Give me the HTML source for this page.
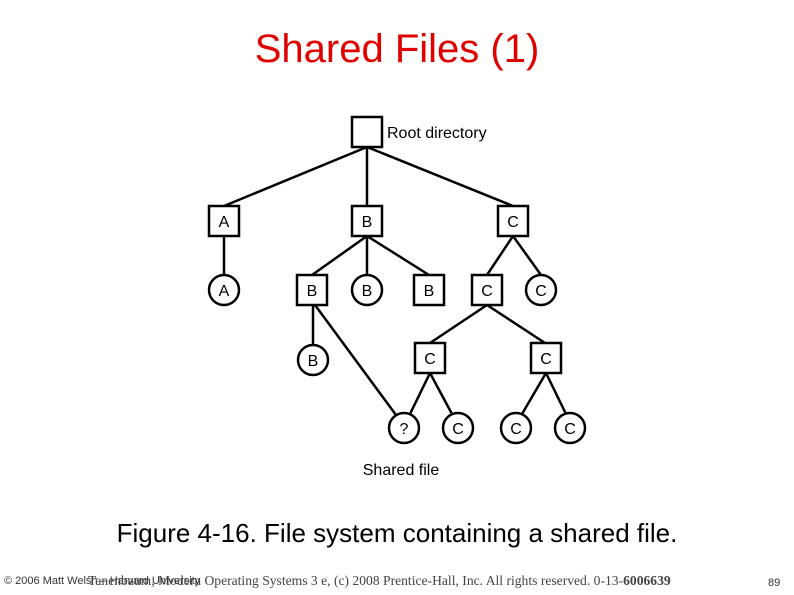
<!DOCTYPE html>
<html><head><style>
html,body{margin:0;padding:0;background:#fff;}
body{width:794px;height:595px;position:relative;overflow:hidden;font-family:"Liberation Sans",sans-serif;}
.t{position:absolute;white-space:nowrap;}
</style></head><body>
<div class="t" style="left:0;width:794px;text-align:center;top:27px;font-size:40px;color:#e00000;">Shared Files (1)</div>
<svg width="794" height="595" style="position:absolute;left:0;top:0" font-family="Liberation Sans, sans-serif">
<g stroke="#000" stroke-width="2.5" fill="none">
<line x1="367" y1="147" x2="224" y2="206"/>
<line x1="367" y1="147" x2="367" y2="206"/>
<line x1="367" y1="147" x2="513" y2="206"/>
<line x1="224" y1="236" x2="224" y2="275"/>
<line x1="367" y1="236" x2="312" y2="275"/>
<line x1="367" y1="236" x2="367" y2="275"/>
<line x1="367" y1="236" x2="429" y2="275"/>
<line x1="513" y1="236" x2="487" y2="275"/>
<line x1="513" y1="236" x2="541" y2="275"/>
<line x1="313" y1="305" x2="313" y2="345"/>
<line x1="315" y1="305" x2="396" y2="415"/>
<line x1="487" y1="305" x2="430" y2="343"/>
<line x1="487" y1="305" x2="545" y2="343"/>
<line x1="430" y1="373" x2="410" y2="414"/>
<line x1="430" y1="373" x2="452" y2="414"/>
<line x1="546" y1="373" x2="522" y2="414"/>
<line x1="546" y1="373" x2="566" y2="414"/>
<rect x="352" y="117" width="30" height="30" fill="#fff"/>
<rect x="209" y="206" width="30" height="30" fill="#fff"/>
<rect x="352" y="206" width="30" height="30" fill="#fff"/>
<rect x="498" y="206" width="30" height="30" fill="#fff"/>
<circle cx="224" cy="290" r="15" fill="#fff"/>
<rect x="297" y="275" width="30" height="30" fill="#fff"/>
<circle cx="367" cy="290" r="15" fill="#fff"/>
<rect x="414" y="275" width="30" height="30" fill="#fff"/>
<rect x="472" y="275" width="30" height="30" fill="#fff"/>
<circle cx="541" cy="290" r="15" fill="#fff"/>
<circle cx="313" cy="360" r="15" fill="#fff"/>
<rect x="415" y="343" width="30" height="30" fill="#fff"/>
<rect x="531" y="343" width="30" height="30" fill="#fff"/>
<circle cx="404" cy="428" r="15" fill="#fff"/>
<circle cx="458" cy="428" r="15" fill="#fff"/>
<circle cx="516" cy="428" r="15" fill="#fff"/>
<circle cx="570" cy="428" r="15" fill="#fff"/>
</g>
<g font-size="16" text-anchor="middle" fill="#000">
<text x="224" y="227">A</text><text x="367" y="227">B</text><text x="513" y="227">C</text>
<text x="224" y="296">A</text><text x="312" y="296">B</text><text x="367" y="296">B</text><text x="429" y="296">B</text><text x="487" y="296">C</text><text x="541" y="296">C</text>
<text x="313" y="366">B</text><text x="430" y="364">C</text><text x="546" y="364">C</text>
<text x="404" y="434">?</text><text x="458" y="434">C</text><text x="516" y="434">C</text><text x="570" y="434">C</text>
</g>
<text x="387" y="138" font-size="16">Root directory</text>
<text x="401" y="475" font-size="16" text-anchor="middle">Shared file</text>
</svg>
<div class="t" style="left:0;width:794px;text-align:center;top:518px;font-size:26px;color:#000;">Figure 4-16. File system containing a shared file.</div>
<div class="t" style="left:4px;top:575px;font-size:11px;color:#333;">© 2006 Matt Welsh – Harvard University</div>
<div class="t" style="left:88px;top:573px;font-size:13.6px;color:#444;font-family:'Liberation Serif',serif;">Tanenbaum, Modern Operating Systems 3 e, (c) 2008 Prentice-Hall, Inc. All rights reserved. 0-13-<b>6006639</b></div>
<div class="t" style="left:768px;top:577px;font-size:11px;color:#333;">89</div>
</body></html>
